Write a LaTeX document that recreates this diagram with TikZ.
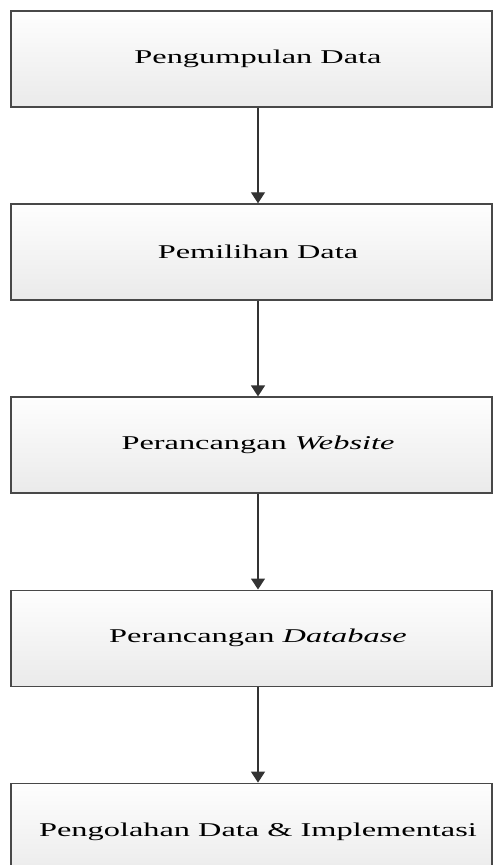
\documentclass[tikz,border=0pt]{standalone}
\usepackage{fontspec}
\setmainfont[FakeStretch=1.66]{Liberation Serif}
\usepackage{tikz}
\usetikzlibrary{arrows.meta, positioning}
\definecolor{boxLine}{HTML}{484848}
\definecolor{boxTop}{HTML}{FEFEFE}
\definecolor{boxBottom}{HTML}{EAEAEA}
\definecolor{arrowLine}{HTML}{333333}

\begin{document}
\begin{tikzpicture}[
    x=1pt, y=1pt,
    node distance=95.5pt,
    stage/.style={draw=boxLine, line width=1.6pt,
                  top color=boxTop, bottom color=boxBottom,
                  minimum width=481pt, minimum height=96pt, inner sep=0pt,
                  font=\fontsize{19.5}{22}\selectfont,
                  execute at begin node={\hspace*{13pt}}},
    arrow/.style={-{Triangle[length=11pt, width=14pt]}, line width=1.2pt,
                  draw=arrowLine, fill=arrowLine},
]
\useasboundingbox (0,0) rectangle (496,-865);

% Stages
\node[stage] (kumpul) at (251.5,-59) {Pengumpulan Data};
\node[stage, below=of kumpul] (pilih) {Pemilihan Data};
\node[stage, below=of pilih] (web) {Perancangan \textit{Website}};
\node[stage, below=of web] (db) {Perancangan \textit{Database}};
\node[stage, below=of db] (olah) {Pengolahan Data \& Implementasi};

% Arrows
\draw[arrow] ([xshift=6.5pt]kumpul.south) -- ([xshift=6.5pt]pilih.north);
\draw[arrow] ([xshift=6.5pt]pilih.south) -- ([xshift=6.5pt]web.north);
\draw[arrow] ([xshift=6.5pt]web.south) -- ([xshift=6.5pt]db.north);
\draw[arrow] ([xshift=6.5pt]db.south) -- ([xshift=6.5pt]olah.north);
\end{tikzpicture}
\end{document}
